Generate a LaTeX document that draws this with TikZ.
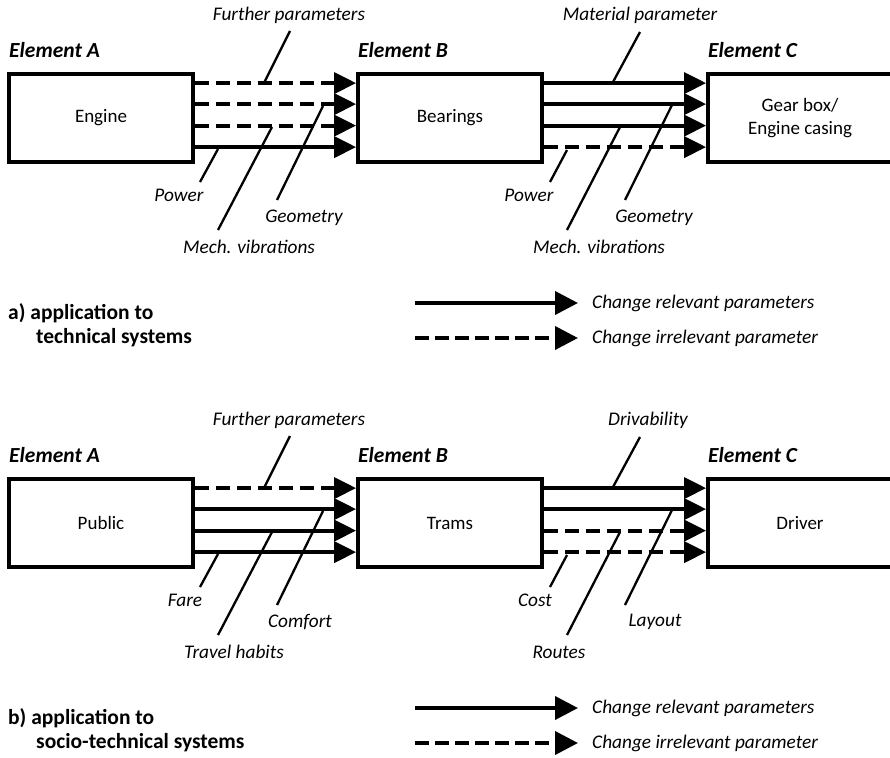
\documentclass[tikz,border=0pt]{standalone}
\usepackage{fontspec}
\setmainfont{Carlito}
\usetikzlibrary{arrows.meta}
\begin{document}
\begin{tikzpicture}[x=1pt,y=-1pt,
  box/.style={draw, line width=3.8pt, minimum width=184pt, minimum height=88pt,
    inner sep=0pt, align=center, font=\fontsize{19}{23.5}\selectfont},
  rel/.style={line width=3.8pt, -{Triangle[length=22pt,width=21pt]}},
  irr/.style={rel, dash pattern=on 14pt off 7pt},
  legrel/.style={line width=3.8pt, -{Triangle[length=23pt,width=23pt]}},
  legirr/.style={legrel, dash pattern=on 14pt off 6pt},
  leader/.style={line width=2.3pt},
  lab/.style={inner sep=0pt, font=\fontsize{19.3}{23}\selectfont\itshape},
  elem/.style={inner sep=0pt, anchor=west, font=\fontsize{21.5}{25}\selectfont\bfseries\itshape},
  legb/.style={inner sep=0pt, anchor=west, font=\fontsize{21.5}{25}\selectfont\bfseries},
  legt/.style={inner sep=0pt, anchor=west, font=\fontsize{19.3}{23}\selectfont\itshape}]
\useasboundingbox (0,0) rectangle (890,757);
\clip (0,0) rectangle (890,757);

% ---------- a) technical system ----------
\node[elem] (eA) at (9,50) {Element A};
\node[elem] (eB) at (358,50) {Element B};
\node[elem] (eC) at (708,50) {Element C};

\node[box] (A) at (101,118) {Engine};
\node[box] (B) at (450,118) {Bearings};
\node[box] (C) at (800,118) {Gear box/\\Engine casing};

\draw[irr] ([yshift=-11pt]A.north east) -- ([yshift=-11pt]B.north west);
\draw[irr] ([yshift=-32pt]A.north east) -- ([yshift=-32pt]B.north west);
\draw[irr] ([yshift=-53.5pt]A.north east) -- ([yshift=-53.5pt]B.north west);
\draw[rel] ([yshift=-75pt]A.north east) -- ([yshift=-75pt]B.north west);

\draw[rel] ([yshift=-11pt]B.north east) -- ([yshift=-11pt]C.north west);
\draw[rel] ([yshift=-32pt]B.north east) -- ([yshift=-32pt]C.north west);
\draw[rel] ([yshift=-53.5pt]B.north east) -- ([yshift=-53.5pt]C.north west);
\draw[irr] ([yshift=-75pt]B.north east) -- ([yshift=-75pt]C.north west);

\node[lab] (fpA) at (289,15) {Further parameters};
\node[lab] (pwA) at (179,195) {Power};
\node[lab] (geA) at (304,218) {Geometry};
\node[lab] (mvA) at (249,247) {Mech. vibrations};
\node[lab] (mpB) at (640,15) {Material parameter};
\node[lab] (pwB) at (529,195) {Power};
\node[lab] (geB) at (654,218) {Geometry};
\node[lab] (mvB) at (599,247) {Mech. vibrations};

\coordinate (fpA1) at (290,31);  \coordinate (fpA2) at (264,83);
\coordinate (pwA1) at (200,182); \coordinate (pwA2) at (218,149);
\coordinate (geA1) at (277,200); \coordinate (geA2) at (323,106);
\coordinate (mvA1) at (218,230); \coordinate (mvA2) at (272,127);
\coordinate (mpB1) at (640,32);  \coordinate (mpB2) at (613,82);
\coordinate (pwB1) at (550,182); \coordinate (pwB2) at (567,150);
\coordinate (geB1) at (625,200); \coordinate (geB2) at (672,105);
\coordinate (mvB1) at (567,230); \coordinate (mvB2) at (620,127);
\foreach \l in {fpA,pwA,geA,mvA,mpB,pwB,geB,mvB}
  \draw[leader] (\l1) -- (\l2);

\node[legb] (la1) at (8,313) {a) application to};
\node[legb] (la2) at (36,338) {technical systems};
\coordinate (lsa1) at (415,303);
\coordinate (lsa2) at (415,338);
\node[legt] (lta1) at (592,303) {Change relevant parameters};
\node[legt] (lta2) at (592,338) {Change irrelevant parameter};
\draw[legrel] (lsa1) -- ([xshift=-14pt]lta1.west);
\draw[legirr] (lsa2) -- ([xshift=-14pt]lta2.west);

% ---------- b) socio-technical system ----------
\node[elem] (fA) at (9,455) {Element A};
\node[elem] (fB) at (358,455) {Element B};
\node[elem] (fC) at (708,455) {Element C};

\node[box] (P) at (101,523) {Public};
\node[box] (T) at (450,523) {Trams};
\node[box] (D) at (800,523) {Driver};

\draw[irr] ([yshift=-11pt]P.north east) -- ([yshift=-11pt]T.north west);
\draw[rel] ([yshift=-32pt]P.north east) -- ([yshift=-32pt]T.north west);
\draw[rel] ([yshift=-53.5pt]P.north east) -- ([yshift=-53.5pt]T.north west);
\draw[rel] ([yshift=-75pt]P.north east) -- ([yshift=-75pt]T.north west);

\draw[rel] ([yshift=-11pt]T.north east) -- ([yshift=-11pt]D.north west);
\draw[rel] ([yshift=-32pt]T.north east) -- ([yshift=-32pt]D.north west);
\draw[irr] ([yshift=-53.5pt]T.north east) -- ([yshift=-53.5pt]D.north west);
\draw[irr] ([yshift=-75pt]T.north east) -- ([yshift=-75pt]D.north west);

\node[lab] (fpP) at (289,420) {Further parameters};
\node[lab] (faP) at (185,600) {Fare};
\node[lab] (coP) at (300,622) {Comfort};
\node[lab] (thP) at (234,652) {Travel habits};
\node[lab] (drT) at (648,420) {Drivability};
\node[lab] (csT) at (535,600) {Cost};
\node[lab] (lyT) at (655,622) {Layout};
\node[lab] (rtT) at (559,652) {Routes};

\coordinate (fpP1) at (290,436);  \coordinate (fpP2) at (264,488);
\coordinate (faP1) at (200,587);  \coordinate (faP2) at (218,554);
\coordinate (coP1) at (277,605);  \coordinate (coP2) at (323,511);
\coordinate (thP1) at (218,635);  \coordinate (thP2) at (272,532);
\coordinate (drT1) at (640,437);  \coordinate (drT2) at (613,487);
\coordinate (csT1) at (550,587);  \coordinate (csT2) at (567,555);
\coordinate (lyT1) at (625,605);  \coordinate (lyT2) at (672,510);
\coordinate (rtT1) at (567,635);  \coordinate (rtT2) at (620,532);
\foreach \l in {fpP,faP,coP,thP,drT,csT,lyT,rtT}
  \draw[leader] (\l1) -- (\l2);

\node[legb] (lb1) at (8,718) {b) application to};
\node[legb] (lb2) at (36,743) {socio-technical systems};
\coordinate (lsb1) at (415,708);
\coordinate (lsb2) at (415,743);
\node[legt] (ltb1) at (592,708) {Change relevant parameters};
\node[legt] (ltb2) at (592,743) {Change irrelevant parameter};
\draw[legrel] (lsb1) -- ([xshift=-14pt]ltb1.west);
\draw[legirr] (lsb2) -- ([xshift=-14pt]ltb2.west);
\end{tikzpicture}
\end{document}
